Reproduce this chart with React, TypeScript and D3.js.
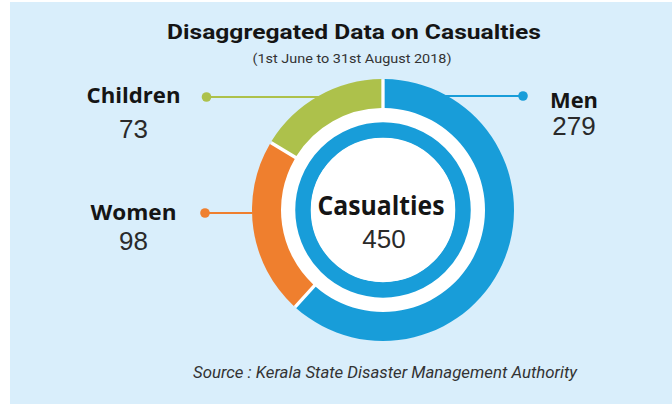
import React from "react";
import * as d3 from "d3";

const categories: string[] = ["Men", "Women", "Children"];
const values: number[] = [279, 98, 73];
const colors: string[] = ["#189dd9", "#ef7f2e", "#adc14b"];
const title = "Disaggregated Data on Casualties";
const subtitle = "(1st June to 31st August 2018)";
const source = "Source : Kerala State Disaster Management Authority";
const centerLabel = "Casualties";

const W = 672;
const H = 404;
const cx = 383;
const cy = 210;
const R = 131;
const r0 = 102;

// label layout: [dotX, dotY, textX, nameBaseline, valueBaseline, anchor]
const labelLayout: Record<string, { dx: number; dy: number; tx: number; nb: number; vb: number; side: number; nameW: number; valW: number }> = {
  Men: { dx: 523, dy: 96, tx: 574, nb: 108, vb: 135, side: 1, nameW: 48, valW: 44 },
  Women: { dx: 205, dy: 213, tx: 133.5, nb: 220, vb: 250, side: -1, nameW: 86, valW: 29 },
  Children: { dx: 206.5, dy: 97, tx: 133.5, nb: 103, vb: 138, side: -1, nameW: 94, valW: 29 },
};

export default function App() {
  const pie = d3
    .pie<number>()
    .sort(null)
    .value((d) => d)
    .padAngle(0.02);
  const arcs = pie(values);
  const arcGen = d3.arc<d3.PieArcDatum<number>>().innerRadius(r0).outerRadius(R);
  const total = d3.sum(values);

  return (
    <svg
      width={W}
      height={H}
      style={{ position: "fixed", left: 0, top: 0, display: "block" }}
    >
      <rect x={0} y={0} width={W} height={H} fill="#ffffff" />
      <rect x={10} y={2} width={W - 10} height={H - 2} fill="#d9eefb" />

      <text
        x={354}
        y={38.5}
        textAnchor="middle"
        fontFamily="Roboto, sans-serif"
        fontWeight={700}
        fontSize={21}
        fill="#151515"
        textLength={374}
        lengthAdjust="spacingAndGlyphs"
      >
        {title}
      </text>
      <text
        x={352}
        y={62.5}
        textAnchor="middle"
        fontFamily="Roboto, sans-serif"
        fontSize={13.5}
        fill="#333"
        textLength={199}
        lengthAdjust="spacingAndGlyphs"
      >
        {subtitle}
      </text>

      {/* leader lines */}
      {categories.map((c, i) => {
        const L = labelLayout[c];
        const edgeX = cx + L.side * Math.sqrt(R * R - (L.dy - cy) * (L.dy - cy)) - L.side * 3;
        return (
          <g key={"l" + c}>
            <line x1={L.dx} y1={L.dy} x2={edgeX} y2={L.dy} stroke={colors[i]} strokeWidth={2} />
            <circle cx={L.dx} cy={L.dy} r={4.8} fill={colors[i]} />
          </g>
        );
      })}

      <g transform={`translate(${cx},${cy})`}>
        <circle r={R - 0.6} fill="#ffffff" />
        {arcs.map((a, i) => (
          <path key={categories[i]} d={arcGen(a) || ""} fill={colors[i]} />
        ))}
        <circle r={80} fill="none" stroke={colors[0]} strokeWidth={15.5} />
        <circle r={72} fill="#ffffff" />
      </g>

      <text
        x={cx - 2}
        y={215}
        textAnchor="middle"
        fontFamily="'Open Sans', sans-serif"
        fontWeight={700}
        fontSize={27}
        fill="#151515"
        textLength={127}
        lengthAdjust="spacingAndGlyphs"
      >
        {centerLabel}
      </text>
      <text
        x={384}
        y={248}
        textAnchor="middle"
        fontFamily="'Liberation Sans', Arial, sans-serif"
        fontSize={26}
        fill="#2a2a2a"
      >
        {total}
      </text>

      {categories.map((c, i) => {
        const L = labelLayout[c];
        return (
          <g key={"t" + c}>
            <text
              x={L.tx}
              y={L.nb}
              textAnchor="middle"
              fontFamily="'Open Sans', sans-serif"
              fontWeight={700}
              fontSize={22}
              fill="#151515"
              textLength={L.nameW}
              lengthAdjust="spacingAndGlyphs"
            >
              {c}
            </text>
            <text
              x={L.tx}
              y={L.vb}
              textAnchor="middle"
              fontFamily="'Liberation Sans', Arial, sans-serif"
              fontSize={26}
              fill="#2a2a2a"
            >
              {values[i]}
            </text>
          </g>
        );
      })}

      <text
        x={385}
        y={377.5}
        textAnchor="middle"
        fontFamily="Roboto, sans-serif"
        fontStyle="italic"
        fontSize={16}
        fill="#333"
        textLength={384}
        lengthAdjust="spacingAndGlyphs"
      >
        {source}
      </text>
    </svg>
  );
}
